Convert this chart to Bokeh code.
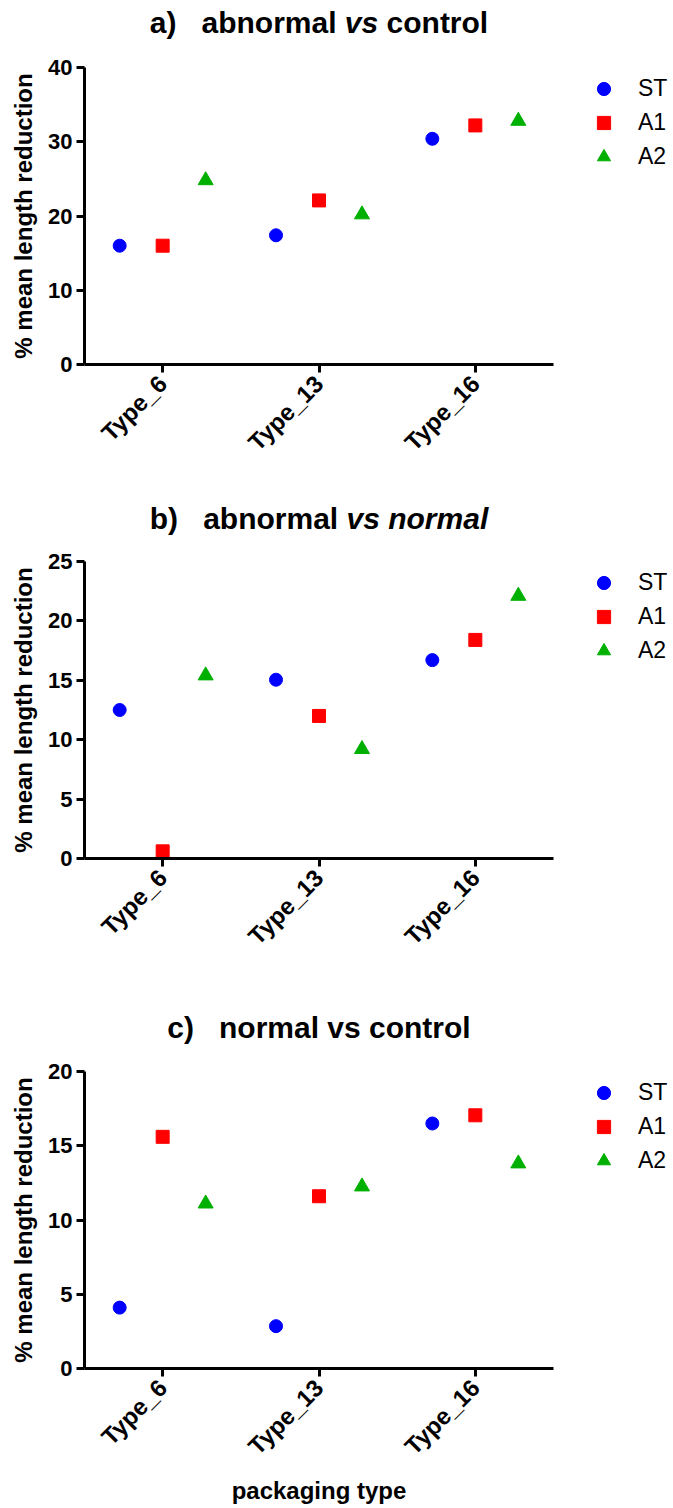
import math
from bokeh.plotting import figure
from bokeh.models import (FactorRange, Range1d, SingleIntervalTicker, Legend,
                          LegendItem, ColumnDataSource)
from bokeh.core.properties import value
from bokeh.transform import dodge
from bokeh.layouts import column
from bokeh.embed import file_html
from bokeh.resources import INLINE

# ---------------- data ----------------
categories = ["Type_6", "Type_13", "Type_16"]
series_names = ["ST", "A1", "A2"]

a_ST = [16.0, 17.4, 30.4]
a_A1 = [16.0, 22.1, 32.2]
a_A2 = [24.8, 20.2, 32.8]

b_ST = [12.5, 15.05, 16.7]
b_A1 = [0.6, 12.0, 18.4]
b_A2 = [15.4, 9.2, 22.1]

c_ST = [4.1, 2.85, 16.5]
c_A1 = [15.6, 11.6, 17.05]
c_A2 = [11.1, 12.25, 13.8]

y_max = [40, 25, 20]
y_step = [10, 5, 5]

title_a = [("a)", "bold"), ("   ", None), ("abnormal", "bold"), (" ", None),
           ("vs", "bold italic"), (" ", None), ("control", "bold")]
title_b = [("b)", "bold"), ("   ", None), ("abnormal", "bold"), (" ", None),
           ("vs normal", "bold italic")]
title_c = [("c)", "bold"), ("   ", None), ("normal vs control", "bold")]

y_label = "% mean length reduction"
x_label = "packaging type"

# ---------------- styles / layout ----------------
FONT = "Liberation Sans"
COLORS = ["#0000FF", "#FF0000", "#00B000"]
MARKERS = ["circle", "square", "triangle"]
SIZES = [13, 13, 15]
OFFSETS = [-0.275, 0.0, 0.275]

TOTAL_W = 665
FW, FH = 469, 297
LEFT = 84
RIGHT = TOTAL_W - LEFT - FW
TITLE_H = [45, 72, 87]
TITLE_BASE = 23
TOPS = [22, 20, 21]
BOTTOMS = [105, 105, 138]

# Arial/Liberation Sans Bold advance widths (per 1000 em)
W = {' ': 278, ')': 333, 'a': 556, 'b': 611, 'c': 556, 'l': 278, 'm': 889,
     'n': 611, 'o': 611, 'r': 389, 's': 556, 't': 333, 'v': 556}
TITLE_SIZE = 30


def tw(s, size):
    return sum(W.get(ch, 556) for ch in s) / 1000.0 * size


def title_fig(h, parts):
    t = figure(frame_width=FW, frame_height=h,
               min_border_left=LEFT, min_border_right=RIGHT,
               min_border_top=0, min_border_bottom=0,
               x_range=Range1d(0, FW), y_range=Range1d(0, h),
               x_axis_type=None, y_axis_type=None,
               output_backend="svg", toolbar_location=None)
    t.outline_line_color = None
    t.xgrid.visible = False
    t.ygrid.visible = False
    total = sum(tw(s, TITLE_SIZE) for s, _ in parts)
    x = FW / 2 - total / 2
    for s, style in parts:
        if style is not None:
            src = ColumnDataSource(dict(x=[x], y=[TITLE_BASE], txt=[s]))
            t.text(x="x", y="y", text="txt", source=src,
                   text_font=value(FONT), text_font_style=value(style),
                   text_font_size=value(f"{TITLE_SIZE}px"),
                   text_color="black", text_align="left",
                   text_baseline="alphabetic")
        x += tw(s, TITLE_SIZE)
    return t


def make_panel(idx, st, a1, a2, show_xlabel):
    p = figure(frame_width=FW, frame_height=FH,
               min_border_left=LEFT, min_border_right=RIGHT,
               min_border_top=TOPS[idx], min_border_bottom=BOTTOMS[idx],
               x_range=FactorRange(factors=categories, range_padding=0),
               y_range=Range1d(0, y_max[idx]),
               output_backend="svg", toolbar_location=None)
    p.outline_line_color = None
    p.xgrid.visible = False
    p.ygrid.visible = False

    items = []
    for name, vals, marker, color, size, off in zip(series_names, [st, a1, a2],
                                                     MARKERS, COLORS, SIZES, OFFSETS):
        src = ColumnDataSource(dict(cat=categories, val=vals))
        r = p.scatter(x=dodge("cat", off, range=p.x_range), y="val", source=src,
                      marker=marker, size=size, fill_color=color, line_color=color)
        items.append(LegendItem(label=name, renderers=[r]))

    legend = Legend(items=items, location=(34, FH - 5 - 101),
                    border_line_color=None, background_fill_alpha=0,
                    padding=0, margin=0, spacing=1,
                    glyph_width=33, glyph_height=33, label_standoff=18,
                    label_text_font=FONT, label_text_font_size="23px",
                    label_text_color="black")
    p.add_layout(legend, "right")

    for ax in (p.xaxis[0], p.yaxis[0]):
        ax.axis_line_width = 3
        ax.axis_line_color = "black"
        ax.major_tick_line_width = 3
        ax.major_tick_line_color = "black"
        ax.major_tick_out = 8
        ax.major_tick_in = 0
        ax.minor_tick_out = 0
        ax.minor_tick_in = 0
        ax.major_label_text_font = FONT
        ax.major_label_text_font_style = "bold"
        ax.major_label_text_color = "black"

    p.yaxis.ticker = SingleIntervalTicker(interval=y_step[idx], num_minor_ticks=0)
    p.yaxis.major_label_text_font_size = "22px"
    p.yaxis.major_label_standoff = 4
    p.yaxis.axis_label = y_label
    p.yaxis.axis_label_text_font = FONT
    p.yaxis.axis_label_text_font_style = "bold"
    p.yaxis.axis_label_text_font_size = "24px"
    p.yaxis.axis_label_text_color = "black"
    p.yaxis.axis_label_standoff = 8

    p.xaxis.major_label_orientation = math.pi / 4
    p.xaxis.major_label_text_font_size = "24px"
    p.xaxis.major_label_standoff = 7
    if show_xlabel:
        p.xaxis.axis_label = x_label
        p.xaxis.axis_label_text_font = FONT
        p.xaxis.axis_label_text_font_style = "bold"
        p.xaxis.axis_label_text_font_size = "24px"
        p.xaxis.axis_label_text_color = "black"
        p.xaxis.axis_label_standoff = 5
    return p


ta = title_fig(TITLE_H[0], title_a)
pa = make_panel(0, a_ST, a_A1, a_A2, False)
tb = title_fig(TITLE_H[1], title_b)
pb = make_panel(1, b_ST, b_A1, b_A2, False)
tc = title_fig(TITLE_H[2], title_c)
pc = make_panel(2, c_ST, c_A1, c_A2, True)

layout = column(ta, pa, tb, pb, tc, pc, spacing=0)
open("out.html", "w").write(file_html(layout, INLINE))
